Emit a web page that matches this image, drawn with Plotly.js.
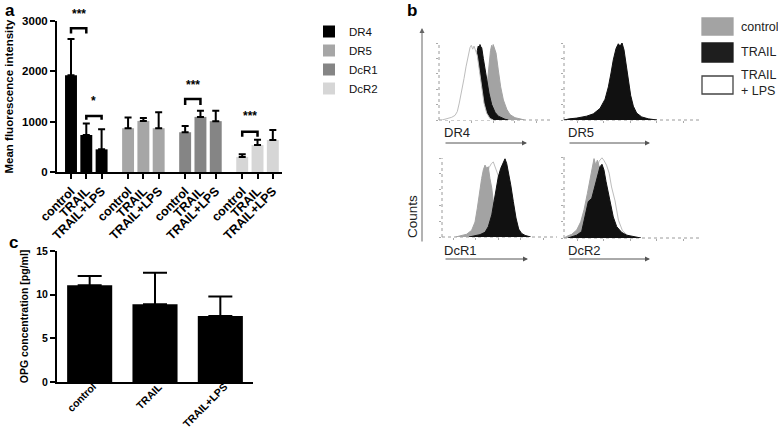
<!DOCTYPE html>
<html><head><meta charset="utf-8">
<script src="https://cdn.plot.ly/plotly-3.0.1.min.js"></script>
<style>html,body{margin:0;padding:0;background:#fff}#chart{width:778px;height:431px}</style>
</head><body><div id="chart"></div>
<script>
// ---------- Panel a: mean fluorescence intensity ----------
const receptors = ['DR4', 'DR5', 'DcR1', 'DcR2'];
const treatments = ['control', 'TRAIL', 'TRAIL+LPS'];
const mfiDR4 = [1920, 735, 450];   const sdDR4 = [720, 230, 400];
const mfiDR5 = [870, 1015, 870];   const sdDR5 = [215, 60, 315];
const mfiDcR1 = [790, 1095, 1010]; const sdDcR1 = [125, 120, 205];
const mfiDcR2 = [300, 535, 635];   const sdDcR2 = [55, 105, 200];
const aTicks = [0, 1000, 2000, 3000];

// ---------- Panel b: flow cytometry histograms (channel, % of max) ----------
const dr4ControlX = [380, 410, 430, 445, 455, 465, 475, 486, 493, 500, 507, 515, 526, 547, 569, 594, 625, 655, 701, 747, 790];
const dr4ControlY = [3, 10, 25, 48, 65, 80, 90, 97, 93, 98, 95, 92, 87, 65, 43, 26, 14, 7, 3, 1.5, 0];
const dr4TrailX = [250, 290, 320, 340, 353, 362, 372, 378, 386, 394, 409, 424, 440, 461, 486, 517, 547, 578, 609, 640];
const dr4TrailY = [2, 10, 35, 60, 90, 96, 94, 98, 95, 94, 80, 65, 52, 35, 20, 10, 5, 2.5, 1, 0];
const dr4LpsX = [28, 71, 117, 148, 169, 187, 209, 231, 249, 270, 286, 298, 311, 323, 335, 353, 372, 394, 415, 440, 470, 501];
const dr4LpsY = [0, 1.8, 3.5, 6, 11, 22, 37, 54, 69, 84, 94, 97, 92, 96, 90, 84, 65, 43, 22, 9, 2, 0];

const dr5TrailX = [0, 40, 96, 140, 171, 221, 271, 309, 334, 354, 371, 392, 409, 422, 437, 452, 467, 484, 502, 522, 547, 585, 635, 700];
const dr5TrailY = [0, 1.5, 2.5, 3.5, 5, 8, 15, 27, 43, 61, 78, 93, 99, 96, 100, 91, 74, 52, 32, 18, 9, 4, 1.5, 0];
const dr5ControlX = [100, 180, 230, 280, 315, 340, 360, 378, 398, 415, 430, 445, 460, 478, 498, 520, 545, 580, 620];
const dr5ControlY = [0, 2, 5, 11, 23, 40, 58, 74, 88, 94, 92, 88, 72, 50, 30, 15, 6, 1, 0];
const dr5LpsX = [110, 190, 240, 285, 318, 342, 362, 380, 400, 418, 432, 448, 462, 480, 500, 522, 548, 590];
const dr5LpsY = [0, 2, 5, 10, 21, 38, 56, 72, 86, 92, 90, 85, 69, 47, 28, 13, 5, 0];

const dcr1ControlX = [120, 160, 220, 264, 294, 314, 332, 353, 368, 383, 398, 412, 427, 443, 457, 487, 516, 561, 605, 650];
const dcr1ControlY = [0, 1.5, 3.5, 8.5, 19, 36, 57, 74, 85, 91, 87, 89, 74, 62, 45, 28, 14, 5, 1, 0];
const dcr1TrailX = [240, 279, 338, 383, 412, 443, 463, 481, 501, 523, 540, 561, 576, 590, 612, 635, 659, 683, 709, 740, 790];
const dcr1TrailY = [0, 1.5, 3, 6, 13, 28, 45, 62, 76, 87, 93, 99, 93, 83, 66, 45, 24, 10, 4.5, 2, 0];
const dcr1LpsX = [250, 300, 340, 370, 400, 420, 440, 457, 470, 485, 500, 520, 540, 570, 600, 640];
const dcr1LpsY = [0, 5, 25, 55, 80, 88, 93, 95, 90, 82, 78, 55, 30, 12, 4, 0];

const dcr2ControlX = [0, 20, 58, 96, 126, 151, 176, 196, 213, 226, 239, 251, 280, 310, 340, 370, 400, 440, 480];
const dcr2ControlY = [0, 2, 4.5, 10, 20, 35, 55, 74, 88, 98, 90, 96, 80, 55, 32, 15, 6, 1, 0];
const dcr2TrailX = [30, 70, 96, 133, 158, 183, 209, 233, 251, 271, 286, 301, 316, 334, 352, 371, 397, 434, 472, 522, 580];
const dcr2TrailY = [0, 2, 3.5, 8, 26, 45, 49, 63, 76, 88, 91, 84, 70, 55, 41, 26, 14, 7, 3.5, 1.5, 0];
const dcr2LpsX = [60, 100, 150, 190, 220, 245, 265, 286, 300, 320, 340, 358, 384, 410, 440, 480, 520];
const dcr2LpsY = [0, 2, 12, 35, 65, 85, 95, 99, 96, 90, 80, 63, 46, 22, 9, 3, 0];

// ---------- Panel c: OPG concentration ----------
const opgMean = [11.07, 8.9, 7.56];
const opgSD = [1.07, 3.6, 2.24];
const cTicks = [0, 5, 10, 15];

// ---------------------------------------------------------------
const FONT = 'Liberation Sans, Arial, sans-serif';
const W = 778, H = 431;
const px = v => v / W, py = v => 1 - v / H;

const aColors = ['#000000', '#a6a6a6', '#858585', '#d6d6d6'];
const aMeans = [mfiDR4, mfiDR5, mfiDcR1, mfiDcR2];
const aSDs = [sdDR4, sdDR5, sdDcR1, sdDcR2];
const groupStep = 3.73;
const traces = [];
const aTickVals = [], aTickText = [];
receptors.forEach((r, g) => {
  const xs = treatments.map((t, i) => g * groupStep + i);
  xs.forEach((x, i) => { aTickVals.push(x); aTickText.push(treatments[i]); });
  traces.push({
    type: 'bar', name: r, x: xs, y: aMeans[g], width: 0.78,
    marker: {color: aColors[g], line: {width: 0}},
    error_y: {type: 'data', symmetric: false, array: aSDs[g], arrayminus: [0, 0, 0],
              color: '#000', thickness: 2, width: 3.5},
    xaxis: 'x', yaxis: 'y', showlegend: true, legend: 'legend'
  });
});

// histograms
function hist(x, y, kind, ax) {
  const st = {
    control: {fill: '#a3a3a3', line: '#a3a3a3', w: 1},
    TRAIL: {fill: '#111111', line: '#111111', w: 1},
    lps: {fill: '#ffffff', line: '#bdbdbd', w: 1}
  }[kind];
  return {type: 'scatter', mode: 'lines', x: x, y: y, fill: 'tozeroy',
    fillcolor: st.fill, line: {color: st.line, width: st.w},
    xaxis: 'x' + ax, yaxis: 'y' + ax, showlegend: false, hoverinfo: 'skip', cliponaxis: false};
}
// DR4: white overlay on top
traces.push(hist(dr4ControlX, dr4ControlY, 'control', 2));
traces.push(hist(dr4TrailX, dr4TrailY, 'TRAIL', 2));
traces.push(hist(dr4LpsX, dr4LpsY, 'lps', 2));
// DR5
traces.push(hist(dr5LpsX, dr5LpsY, 'lps', 3));
traces.push(hist(dr5ControlX, dr5ControlY, 'control', 3));
traces.push(hist(dr5TrailX, dr5TrailY, 'TRAIL', 3));
// DcR1
traces.push(hist(dcr1LpsX, dcr1LpsY, 'lps', 4));
traces.push(hist(dcr1ControlX, dcr1ControlY, 'control', 4));
traces.push(hist(dcr1TrailX, dcr1TrailY, 'TRAIL', 4));
// DcR2
traces.push(hist(dcr2LpsX, dcr2LpsY, 'lps', 5));
traces.push(hist(dcr2ControlX, dcr2ControlY, 'control', 5));
traces.push(hist(dcr2TrailX, dcr2TrailY, 'TRAIL', 5));

// panel c
traces.push({
  type: 'bar', x: [0, 1, 2], y: opgMean, width: 0.69,
  marker: {color: '#000', line: {width: 0}},
  error_y: {type: 'data', symmetric: false, array: opgSD, arrayminus: [0, 0, 0],
            color: '#000', thickness: 2, width: 12},
  xaxis: 'x6', yaxis: 'y6', showlegend: false
});

const boldTick = (s) => ({family: FONT, size: s, color: '#000', weight: 'bold'});

const histAxis = (dom, anchor) => ({
  domain: dom, anchor: anchor, range: [0, 1024], showgrid: false, zeroline: false,
  showline: false, ticks: 'outside', ticklen: 2, tickwidth: 1, tickcolor: '#aaa',
  tickvals: [100, 300, 500, 700, 900], showticklabels: false, fixedrange: true
});
const histYAxis = (dom, anchor) => ({
  domain: dom, anchor: anchor, range: [0, 100], showgrid: false, zeroline: false,
  showline: false, ticks: 'outside', ticklen: 2, tickwidth: 1, tickcolor: '#aaa',
  tickvals: [0, 20, 40, 60, 80, 100], showticklabels: false, fixedrange: true
});

const layout = {
  width: W, height: H, margin: {l: 0, r: 0, t: 0, b: 0},
  paper_bgcolor: '#fff', plot_bgcolor: 'rgba(0,0,0,0)',
  font: {family: FONT, color: '#000'},
  showlegend: true,
  legend: {x: px(309), y: py(17), xanchor: 'left', yanchor: 'top',
           font: {family: FONT, size: 11.5, color: '#111'}, tracegroupgap: 0,
           bgcolor: 'rgba(0,0,0,0)', itemclick: false},
  xaxis: {domain: [px(57), px(282)], anchor: 'y', range: [-0.915, 13.79],
          showgrid: false, zeroline: false, showline: true, linecolor: '#000', linewidth: 2,
          ticks: 'outside', ticklen: 5, tickwidth: 2, tickcolor: '#000',
          tickvals: aTickVals, ticktext: aTickText, tickangle: -45, tickfont: boldTick(12.5)},
  yaxis: {domain: [py(172), py(21)], anchor: 'x', range: [0, 3000],
          showgrid: false, zeroline: false, showline: true, linecolor: '#000', linewidth: 2,
          ticks: 'outside', ticklen: 5, tickwidth: 2, tickcolor: '#000',
          tickvals: aTicks, tickfont: boldTick(11.5),
          title: {text: 'Mean fluorescence intensity', font: boldTick(11.5), standoff: 6}},
  xaxis2: histAxis([px(439), px(550)], 'y2'),
  yaxis2: histYAxis([py(120), py(43)], 'x2'),
  xaxis3: histAxis([px(564), px(700)], 'y3'),
  yaxis3: histYAxis([py(120), py(43)], 'x3'),
  xaxis4: histAxis([px(442), px(557)], 'y4'),
  yaxis4: histYAxis([py(237), py(158)], 'x4'),
  xaxis5: histAxis([px(564), px(700)], 'y5'),
  yaxis5: histYAxis([py(238), py(157)], 'x5'),
  xaxis6: {domain: [px(57), px(253)], anchor: 'y6', range: [-0.5, 2.5],
           showgrid: false, zeroline: false, showline: true, linecolor: '#000', linewidth: 2,
           ticks: '', showticklabels: false},
  yaxis6: {domain: [py(382), py(251)], anchor: 'x6', range: [0, 15],
           showgrid: false, zeroline: false, showline: true, linecolor: '#000', linewidth: 2,
           ticks: 'outside', ticklen: 5, tickwidth: 2, tickcolor: '#000',
           tickvals: cTicks, tickfont: boldTick(10.5),
           title: {text: 'OPG concentration [pg/ml]', font: boldTick(10.5), standoff: 6}},
  shapes: [], annotations: []
};

// panel c category labels (rotated, placed right under the axis)
treatments.forEach((t, i) => {
  layout.annotations.push({xref: 'x6', yref: 'paper', x: i + 0.16, y: py(379), text: t,
    showarrow: false, textangle: -45, xanchor: 'right', yanchor: 'top', borderpad: 0,
    font: boldTick(10.5)});
});

// dotted frame lines for histograms
[2, 3, 4, 5].forEach(k => {
  layout.shapes.push({type: 'line', xref: 'x' + k + ' domain', yref: 'y' + k + ' domain',
    x0: 0, x1: 0, y0: 0, y1: 1, line: {color: '#9a9a9a', width: 1, dash: 'dot'}, layer: 'below'});
  layout.shapes.push({type: 'line', xref: 'x' + k + ' domain', yref: 'y' + k + ' domain',
    x0: 0, x1: 1, y0: 0, y1: 0, line: {color: '#9a9a9a', width: 1, dash: 'dot'}, layer: 'below'});
});

// significance brackets (panel a); star labels positioned in paper pixels
const brackets = [
  {x0: 0, x1: 1, top: 2857, leg: 2750, label: '***', ly: 14},
  {x0: 1, x1: 2, top: 1113, leg: 1040, label: '*', ly: 101},
  {x0: 2 * groupStep, x1: 2 * groupStep + 1, top: 1451, leg: 1330, label: '***', ly: 85},
  {x0: 3 * groupStep, x1: 3 * groupStep + 1, top: 801, leg: 700, label: '***', ly: 116}
];
brackets.forEach(b => {
  layout.shapes.push({type: 'path', xref: 'x', yref: 'y',
    path: `M${b.x0},${b.leg} L${b.x0},${b.top} L${b.x1},${b.top} L${b.x1},${b.leg}`,
    line: {color: '#000', width: 2.5}});
  layout.annotations.push({xref: 'x', yref: 'paper', x: (b.x0 + b.x1) / 2, y: py(b.ly), text: b.label,
    showarrow: false, font: {family: FONT, size: 12, color: '#000', weight: 'bold'}, yanchor: 'middle'});
});

// panel letters
[['a', 3, 10], ['b', 405, 11], ['c', 7, 243]].forEach(([t, x, y]) => {
  layout.annotations.push({xref: 'paper', yref: 'paper', x: px(x), y: py(y), text: t,
    showarrow: false, xanchor: 'left', yanchor: 'middle',
    font: {family: FONT, size: 17, color: '#000', weight: 'bold'}});
});

// histogram labels + arrows
const hl = [['DR4', 443, 132, 143, 527], ['DR5', 567, 132, 143, 650],
            ['DcR1', 443, 250, 259, 528], ['DcR2', 567, 250, 259, 650]];
hl.forEach(([t, x, y, ay, tip]) => {
  layout.annotations.push({xref: 'paper', yref: 'paper', x: px(x - 1), y: py(y), text: t,
    showarrow: false, xanchor: 'left', yanchor: 'middle',
    font: {family: FONT, size: 13, color: '#222'}});
  layout.annotations.push({xref: 'paper', yref: 'paper', x: px(tip), y: py(ay), text: '',
    showarrow: true, ax: -(tip - x - 1), ay: 0, arrowhead: 2, arrowsize: 1, arrowwidth: 1,
    arrowcolor: '#555'});
});
// Counts axis
layout.annotations.push({xref: 'paper', yref: 'paper', x: px(422), y: py(28), text: '',
  showarrow: true, ax: 0, ay: 215, arrowhead: 2, arrowsize: 1, arrowwidth: 1, arrowcolor: '#666'});
layout.annotations.push({xref: 'paper', yref: 'paper', x: px(412), y: py(217), text: 'Counts',
  showarrow: false, textangle: -90, xanchor: 'center', yanchor: 'middle',
  font: {family: FONT, size: 13.5, color: '#222'}});

// legend for panel b
const bLegend = [
  {fill: '#a3a3a3', line: '#a3a3a3', y0: 18, y1: 35, text: 'control', ty: 27},
  {fill: '#1e1e1e', line: '#1e1e1e', y0: 43, y1: 62, text: 'TRAIL', ty: 52},
  {fill: '#ffffff', line: '#444', y0: 76, y1: 94, text: 'TRAIL<br>+ LPS', ty: 83}
];
bLegend.forEach(l => {
  layout.shapes.push({type: 'rect', xref: 'paper', yref: 'paper', x0: px(702), x1: px(733),
    y0: py(l.y1), y1: py(l.y0), fillcolor: l.fill, line: {color: l.line, width: 1.3}});
  layout.annotations.push({xref: 'paper', yref: 'paper', x: px(739), y: py(l.ty), text: l.text,
    showarrow: false, xanchor: 'left', yanchor: 'middle', align: 'left',
    font: {family: FONT, size: 12.5, color: '#222'}});
});

Plotly.newPlot('chart', traces, layout, {staticPlot: true, displayModeBar: false});
</script>
</body></html>
